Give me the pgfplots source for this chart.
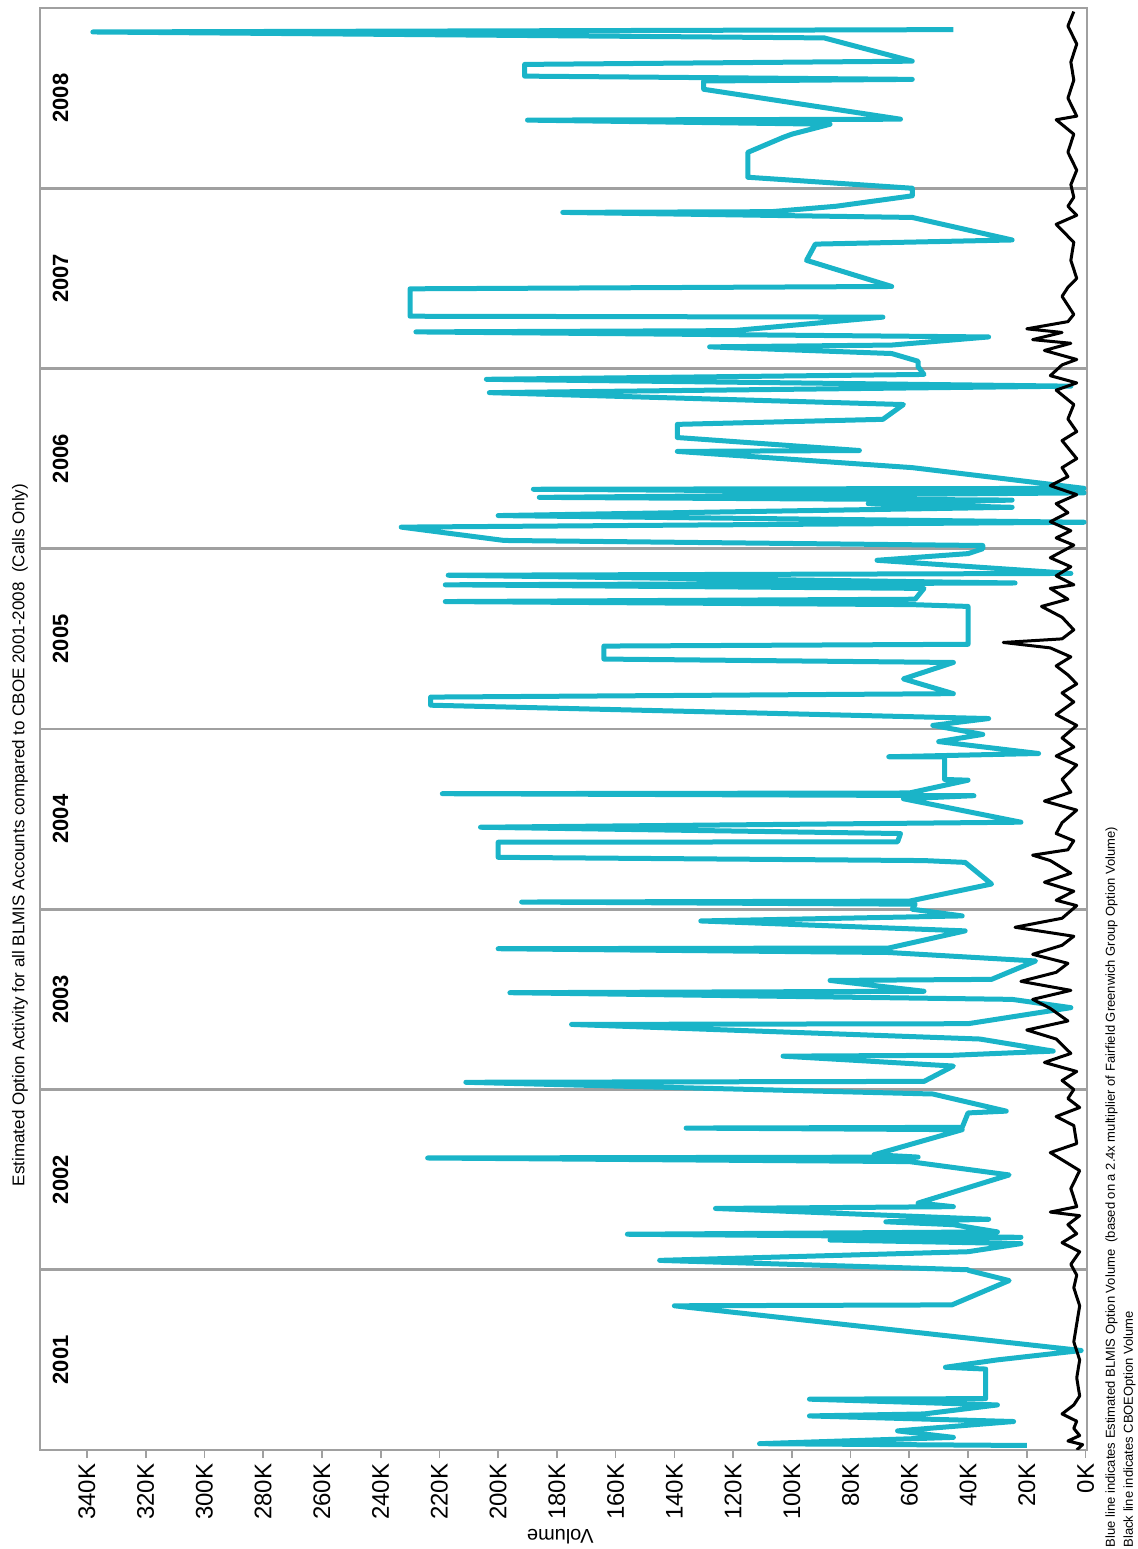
\documentclass[border=0pt]{standalone}
\usepackage{pgfplots}
\pgfplotsset{compat=1.18}
\usepackage{fontspec}
\setmainfont{Liberation Sans}
\definecolor{cy}{RGB}{26,180,200}
\definecolor{gridg}{RGB}{160,160,160}
\begin{document}
\begin{tikzpicture}
\begin{axis}[
  name=ax,
  at={(0pt,0pt)}, anchor=south west,
  scale only axis,
  width=314.1pt, height=432.6pt,
  x dir=reverse,
  xmin=-0.5, xmax=356,
  ymin=1, ymax=9,
  xtick={0,20,...,340},
  xticklabels={0K,20K,40K,60K,80K,100K,120K,140K,160K,180K,200K,220K,240K,260K,280K,300K,320K,340K},
  xticklabel style={rotate=90, anchor=east, font=\fontsize{7.2}{7.2}\selectfont, inner sep=1.5pt},
  xtick pos=left,
  tick align=outside,
  major tick length=2.4pt,
  xtick style={gridg, line width=0.5pt},
  ytick={2,3,4,5,6,7,8},
  yticklabels={},
  ytick style={draw=none},
  ymajorgrids,
  grid style={draw=gridg, line width=0.85pt},
  axis line style={gridg, line width=0.5pt},
]
% t = years after 2000 (1.5 = mid 2001), v = volume in thousands
\addplot[cy, line width=1.5pt, line join=round] table[x=v, y=t, row sep=\\] {
t v\\
1.025 20\\ 1.035 111\\ 1.07 45\\ 1.106 64\\ 1.158 24.5\\ 1.189 94\\
1.20 55\\ 1.25 30\\ 1.282 94\\ 1.285 34\\ 1.449 34\\ 1.459 47.7\\
1.50 30\\ 1.552 1.5\\ 1.80 140\\ 1.805 45.5\\ 1.94 26\\ 1.997 40\\
2.00 40\\ 2.052 145\\ 2.10 40\\ 2.145 22\\ 2.165 87\\ 2.18 22\\
2.197 156\\ 2.21 30\\ 2.25 45\\ 2.266 68\\ 2.28 33\\ 2.34 126\\
2.35 45\\ 2.37 57\\ 2.526 26\\ 2.60 60\\ 2.62 224\\ 2.625 57\\
2.638 72\\ 2.777 42\\ 2.786 136\\ 2.79 42\\ 2.87 40\\ 2.88 27\\
2.975 52\\ 3.04 211\\ 3.045 55\\ 3.13 45\\ 3.185 103\\ 3.19 45\\
3.213 11\\ 3.28 36\\ 3.361 175\\ 3.365 40\\ 3.454 5\\ 3.50 25\\
3.537 196\\ 3.545 55\\ 3.605 87\\ 3.611 32\\ 3.713 17\\ 3.76 67\\
3.781 200\\ 3.785 67\\ 3.88 41\\ 3.935 131\\ 3.963 42\\ 4.00 59\\
4.028 58\\ 4.04 192\\ 4.045 60\\ 4.14 32\\ 4.26 41\\ 4.27 55\\
4.288 200\\ 4.372 200\\ 4.374 64\\ 4.42 63\\ 4.455 206\\ 4.483 22\\
4.613 62\\ 4.63 38\\ 4.641 219\\ 4.645 60\\ 4.716 40\\ 4.72 48\\
4.845 48\\ 4.846 67\\ 4.864 16\\ 4.93 50\\ 4.97 35\\ 5.02 52\\
5.058 33\\ 5.132 223\\ 5.177 223\\ 5.196 45\\ 5.278 62\\ 5.369 45\\
5.388 164\\ 5.46 164\\ 5.47 40\\ 5.68 40\\ 5.69 59\\ 5.707 218\\
5.72 58\\ 5.78 55\\ 5.80 218\\ 5.81 24\\ 5.853 217\\ 5.863 5\\
5.936 71\\ 5.973 40\\ 6.00 35\\ 6.018 35\\ 6.046 198\\ 6.12 233\\
6.147 0.5\\ 6.184 200\\ 6.23 25\\ 6.25 74\\ 6.27 25\\ 6.285 186\\
6.31 0.5\\ 6.33 188\\ 6.335 0.5\\ 6.45 59\\ 6.54 139\\ 6.545 77\\
6.617 139\\ 6.69 139\\ 6.718 69\\ 6.80 62\\ 6.866 203\\ 6.902 5\\
6.94 204\\ 6.967 55\\ 7.01 57\\ 7.04 57\\ 7.083 66\\ 7.12 128\\
7.13 66\\ 7.175 33\\ 7.203 228\\ 7.21 120\\ 7.285 69\\ 7.29 230\\
7.442 230\\ 7.455 66\\ 7.60 95\\ 7.69 92\\ 7.713 25\\ 7.838 59\\
7.866 178\\ 7.87 107\\ 7.90 85\\ 7.958 59\\ 8.00 59\\ 8.061 115\\
8.199 115\\ 8.282 103\\ 8.30 100\\ 8.355 87\\ 8.378 190\\ 8.383 63\\
8.549 130\\ 8.595 130\\ 8.604 59\\ 8.622 191\\ 8.687 191\\ 8.705 59\\
8.834 89\\ 8.867 338\\ 8.88 45\\
};
\addplot[black, line width=0.9pt, line join=round] table[x=v, y=t, row sep=\\] {
t v\\
1.00 3\\ 1.03 1\\ 1.05 6\\ 1.08 2\\ 1.12 4\\ 1.16 3\\ 1.20 8\\
1.25 4\\ 1.30 2\\ 1.40 3\\ 1.50 2\\ 1.60 4\\ 1.70 3\\ 1.80 2\\
1.90 4\\ 1.97 3\\
2.03 5\\ 2.10 2\\ 2.15 8\\ 2.20 3\\ 2.25 6\\ 2.30 2\\ 2.32 12\\
2.35 3\\ 2.45 5\\ 2.55 2\\ 2.60 7\\ 2.65 12\\ 2.70 3\\ 2.80 4\\
2.85 10\\ 2.90 2\\ 2.95 6\\
3.00 4\\ 3.05 8\\ 3.10 3\\ 3.15 14\\ 3.20 5\\ 3.28 10\\ 3.33 20\\
3.38 6\\ 3.45 12\\ 3.50 18\\ 3.55 5\\ 3.60 22\\ 3.65 10\\ 3.70 6\\
3.75 18\\ 3.80 8\\ 3.85 4\\ 3.90 24\\ 3.95 8\\
4.02 3\\ 4.05 10\\ 4.10 4\\ 4.15 14\\ 4.20 5\\ 4.27 12\\ 4.30 18\\
4.33 6\\ 4.38 4\\ 4.42 10\\ 4.48 8\\ 4.55 3\\ 4.60 14\\ 4.65 5\\
4.72 8\\ 4.80 3\\ 4.85 10\\ 4.90 4\\ 4.95 8\\
5.02 3\\ 5.08 10\\ 5.15 4\\ 5.20 8\\ 5.25 3\\ 5.30 6\\ 5.35 10\\
5.40 5\\ 5.45 12\\ 5.48 28\\ 5.50 8\\ 5.55 4\\ 5.62 8\\ 5.68 15\\
5.72 6\\ 5.78 12\\ 5.80 4\\ 5.85 10\\ 5.90 5\\ 5.95 12\\
6.02 4\\ 6.06 10\\ 6.10 5\\ 6.15 12\\ 6.20 6\\ 6.25 10\\ 6.30 3\\
6.35 12\\ 6.40 6\\ 6.45 8\\ 6.50 3\\ 6.60 8\\ 6.65 3\\ 6.72 6\\
6.80 4\\ 6.88 10\\ 6.92 3\\ 6.96 12\\
7.02 8\\ 7.05 3\\ 7.10 14\\ 7.14 5\\ 7.16 18\\ 7.20 8\\ 7.22 20\\
7.26 6\\ 7.30 4\\ 7.40 8\\ 7.45 6\\ 7.50 3\\ 7.60 5\\ 7.70 4\\
7.80 10\\ 7.85 3\\ 7.90 6\\ 7.95 4\\
8.02 5\\ 8.10 3\\ 8.20 6\\ 8.30 4\\ 8.38 10\\ 8.40 3\\ 8.50 6\\
8.60 4\\ 8.70 5\\ 8.80 3\\ 8.90 6\\ 8.98 4\\
};
\node[rotate=90, font=\bfseries\fontsize{6.6}{6.6}\selectfont] at (axis cs:349,1.5) {2001};
\node[rotate=90, font=\bfseries\fontsize{6.6}{6.6}\selectfont] at (axis cs:349,2.5) {2002};
\node[rotate=90, font=\bfseries\fontsize{6.6}{6.6}\selectfont] at (axis cs:349,3.5) {2003};
\node[rotate=90, font=\bfseries\fontsize{6.6}{6.6}\selectfont] at (axis cs:349,4.5) {2004};
\node[rotate=90, font=\bfseries\fontsize{6.6}{6.6}\selectfont] at (axis cs:349,5.5) {2005};
\node[rotate=90, font=\bfseries\fontsize{6.6}{6.6}\selectfont] at (axis cs:349,6.5) {2006};
\node[rotate=90, font=\bfseries\fontsize{6.6}{6.6}\selectfont] at (axis cs:349,7.5) {2007};
\node[rotate=90, font=\bfseries\fontsize{6.6}{6.6}\selectfont] at (axis cs:349,8.5) {2008};
\end{axis}
\node[rotate=90, font=\fontsize{5.1}{5.1}\selectfont] at (-6pt,184.5pt)
  {Estimated Option Activity for all BLMIS Accounts compared to CBOE 2001-2008\ \ (Calls Only)};
\node[rotate=180, font=\fontsize{6}{6}\selectfont] at (156.1pt,-26pt) {Volume};
\node[rotate=90, anchor=south west, align=left, inner sep=0pt, font=\fontsize{3.9}{5.4}\selectfont]
  at (328.9pt,-29.4pt)
  {Blue line indicates Estimated BLMIS Option Volume\ \ (based on a 2.4x multiplier of Fairfield Greenwich Group Option Volume)\\
   Black line indicates CBOEOption Volume};
\pgfresetboundingbox
\path[use as bounding box] (-12pt,-29.7pt) rectangle (329.4pt,435pt);
\end{tikzpicture}
\end{document}
